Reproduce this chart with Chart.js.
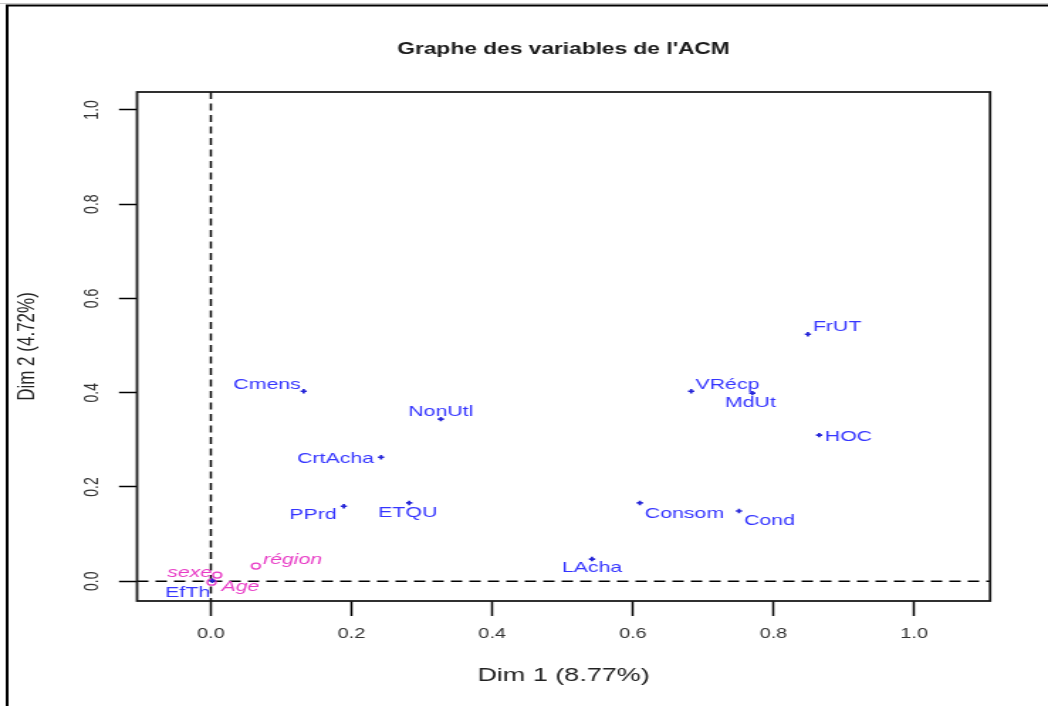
<!DOCTYPE html>
<html>
<head>
<meta charset="utf-8">
<script src="https://cdn.jsdelivr.net/npm/chart.js@4.4.1/dist/chart.umd.min.js"></script>
<style>
  html, body { margin: 0; padding: 0; background: #fff; overflow: hidden; }
  #wrap { position: absolute; left: 0; top: 0; width: 738px; height: 706px;
          transform: scaleX(1.42005); transform-origin: 0 0; }
  canvas { display: block; }
</style>
</head>
<body>
<div id="wrap"><canvas id="c" width="738" height="706"></canvas></div>
<script>
// Active variables: coordinates on Dim 1 and Dim 2
const activeNames = ['FrUT', 'VRécp', 'MdUt', 'HOC', 'Consom', 'Cond', 'LAcha',
                     'Cmens', 'NonUtl', 'CrtAcha', 'PPrd', 'ETQU', 'EfTh'];
const activeDim1 = [0.849, 0.683, 0.770, 0.865, 0.610, 0.751, 0.542,
                    0.132, 0.327, 0.242, 0.189, 0.282, 0.002];
const activeDim2 = [0.524, 0.403, 0.399, 0.310, 0.166, 0.149, 0.047,
                    0.403, 0.344, 0.263, 0.159, 0.166, 0.001];

// Supplementary variables
const suppNames = ['sexe', 'Age', 'région'];
const suppDim1 = [0.009, 0.001, 0.064];
const suppDim2 = [0.013, -0.002, 0.032];

const chartTitle = "Graphe des variables de l'ACM";
const xTitle = 'Dim 1 (8.77%)';
const yTitle = 'Dim 2 (4.72%)';

const FONT = '"Liberation Sans", Arial, "DejaVu Sans", sans-serif';
const BLUE = '#3535ff';
const BLUE_PT = '#2424d8';
const PINK = '#e83cc6';

// label offset from its point [dx, dy, align]
const labelPlacement = {
  'FrUT': [3.5, -7, 'left'], 'VRécp': [3, -6, 'left'], 'MdUt': [-1.4, 10, 'center'],
  'HOC': [4, 2, 'left'], 'Consom': [3.5, 11, 'left'], 'Cond': [3.5, 10, 'left'],
  'LAcha': [0, 9, 'center'], 'Cmens': [-2, -6, 'right'], 'NonUtl': [0, -7, 'center'],
  'CrtAcha': [-5, 2, 'right'], 'PPrd': [-5, 9, 'right'], 'ETQU': [-1, 10, 'center'],
  'EfTh': [-1.5, 12, 'right'], 'sexe': [-3.5, -2, 'right'], 'Age': [7, 5, 'left'],
  'région': [5, -6, 'left']
};

const toPoints = (xs, ys) => xs.map((x, i) => ({ x: x, y: ys[i] }));

// page frame and white background
const framePlugin = {
  id: 'frame',
  beforeDraw(chart) {
    const ctx = chart.ctx;
    ctx.save();
    ctx.fillStyle = '#fff';
    ctx.fillRect(0, 0, chart.width, chart.height);
    ctx.strokeStyle = '#c8c8c8';
    ctx.lineWidth = 1;
    ctx.beginPath(); ctx.moveTo(0, 3.5); ctx.lineTo(chart.width, 3.5); ctx.stroke();
    ctx.strokeStyle = '#000';
    ctx.lineWidth = 2;
    ctx.beginPath();
    ctx.moveTo(5, chart.height); ctx.lineTo(5, 5.5); ctx.lineTo(chart.width, 5.5);
    ctx.stroke();
    ctx.restore();
  }
};

// dashed reference lines through the origin, and the plot box
const originPlugin = {
  id: 'originLines',
  beforeDatasetsDraw(chart) {
    const { ctx, chartArea: a, scales: { x, y } } = chart;
    const x0 = x.getPixelForValue(0), y0 = y.getPixelForValue(0);
    ctx.save();
    ctx.strokeStyle = '#000';
    ctx.lineWidth = 1.5;
    ctx.setLineDash([8, 5]);
    ctx.beginPath(); ctx.moveTo(a.left, y0); ctx.lineTo(a.right, y0); ctx.stroke();
    ctx.setLineDash([7, 4.5]);
    ctx.beginPath(); ctx.moveTo(x0, a.top); ctx.lineTo(x0, a.bottom); ctx.stroke();
    ctx.restore();
  },
  afterDatasetsDraw(chart) {
    const { ctx, chartArea: a } = chart;
    ctx.save();
    ctx.strokeStyle = '#1a1a1a';
    ctx.lineWidth = 1.8;
    ctx.strokeRect(a.left, a.top, a.right - a.left, a.bottom - a.top);
    ctx.restore();
  }
};

// category names next to their points
const labelPlugin = {
  id: 'pointLabels',
  afterDatasetsDraw(chart) {
    const ctx = chart.ctx;
    ctx.save();
    ctx.textBaseline = 'middle';
    chart.data.datasets.forEach((ds, di) => {
      const meta = chart.getDatasetMeta(di);
      ctx.fillStyle = ds.labelColor;
      ctx.font = (ds.italic ? 'italic ' : '') + '15px ' + FONT;
      meta.data.forEach((el, i) => {
        const name = ds.names[i];
        const p = labelPlacement[name] || [4, -6, 'left'];
        ctx.textAlign = p[2];
        ctx.fillText(name, el.x + p[0], el.y + p[1]);
      });
    });
    ctx.restore();
  }
};

new Chart(document.getElementById('c'), {
  type: 'scatter',
  data: {
    datasets: [
      {
        data: toPoints(activeDim1, activeDim2),
        names: activeNames,
        labelColor: BLUE,
        italic: false,
        pointStyle: 'cross',
        radius: 2.2,
        borderWidth: 1.7,
        borderColor: BLUE_PT,
        backgroundColor: BLUE_PT
      },
      {
        data: toPoints(suppDim1, suppDim2),
        names: suppNames,
        labelColor: PINK,
        italic: true,
        pointStyle: 'circle',
        radius: 3,
        borderWidth: 1.3,
        borderColor: PINK,
        backgroundColor: 'rgba(0,0,0,0)'
      }
    ]
  },
  options: {
    responsive: false,
    animation: false,
    devicePixelRatio: 1,
    events: [],
    layout: { padding: { left: 0, right: 40.8, top: 0, bottom: 0 } },
    plugins: {
      legend: { display: false },
      tooltip: { enabled: false },
      title: {
        display: true,
        fullSize: false,
        text: chartTitle,
        color: '#1a1a1a',
        font: { family: FONT, size: 16, weight: 'bold' },
        padding: { top: 40, bottom: 32.8 }
      }
    },
    scales: {
      x: {
        type: 'linear',
        min: -0.105,
        max: 1.108,
        afterFit(s) { s.height = 105; },
        border: { display: false },
        grid: { drawOnChartArea: false, drawTicks: true, tickLength: 15, tickColor: '#000', tickWidth: 1.5 },
        ticks: {
          stepSize: 0.2, includeBounds: false, autoSkip: false, maxRotation: 0, padding: 9.6,
          color: '#333', font: { family: FONT, size: 14 },
          callback: v => v.toFixed(1)
        },
        title: {
          display: true, text: xTitle, color: '#222',
          font: { family: FONT, size: 19 }, padding: { top: 0, bottom: 19 }
        }
      },
      y: {
        type: 'linear',
        min: -0.042,
        max: 1.038,
        afterFit(s) { s.width = 96.5; },
        border: { display: false },
        grid: { drawOnChartArea: false, drawTicks: true, tickLength: 12.7, tickColor: '#000', tickWidth: 1.5 },
        ticks: {
          stepSize: 0.2, includeBounds: false, autoSkip: false,
          minRotation: 90, maxRotation: 90, crossAlign: 'center', padding: 8.6,
          color: '#333', font: { family: FONT, size: 14 },
          callback: v => v.toFixed(1)
        },
        title: {
          display: true, text: yTitle, color: '#222',
          font: { family: FONT, size: 17 }, padding: { top: 9.5, bottom: 0 }
        }
      }
    }
  },
  plugins: [framePlugin, originPlugin, labelPlugin]
});
</script>
</body>
</html>
